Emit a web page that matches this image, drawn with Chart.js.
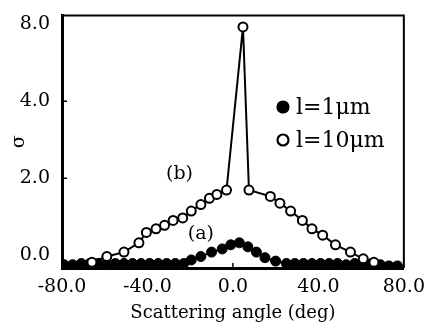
<!DOCTYPE html>
<html>
<head>
<meta charset="utf-8">
<script src="https://cdn.jsdelivr.net/npm/chart.js@4"></script>
<style>
  html, body { margin: 0; padding: 0; background: #fff; }
  #wrap { width: 425px; height: 328px; }
</style>
</head>
<body>
<div id="wrap"><canvas id="myChart"></canvas></div>
<script>
// series (a): l = 1um, filled circles
const aAngles = [-79, -75, -71, -67, -63, -59, -55, -51, -47, -43, -39, -35, -31, -27, -23, -19.5, -15, -10, -5, -1, 3, 7, 11, 15, 20, 25, 29, 33, 37, 41, 45, 49, 53, 57, 61, 65, 69, 73, 77];
const aValues = [0.92, 0.92, 0.93, 0.93, 0.93, 0.92, 0.93, 0.93, 0.93, 0.93, 0.93, 0.93, 0.93, 0.93, 0.93, 0.96, 0.99, 1.03, 1.06, 1.10, 1.12, 1.08, 1.03, 0.98, 0.95, 0.93, 0.93, 0.93, 0.93, 0.93, 0.93, 0.93, 0.92, 0.93, 0.93, 0.93, 0.92, 0.91, 0.91];

// series (b): l = 10um, open circles
const bAngles = [-66, -59, -51, -44, -40.5, -36, -32, -28, -23.5, -19.5, -15, -11, -7.5, -3, 4.7, 7.5, 17.5, 22, 27, 32.5, 37, 42, 48, 55, 61, 66];
const bValues = [0.94, 0.99, 1.03, 1.12, 1.23, 1.27, 1.31, 1.37, 1.40, 1.49, 1.58, 1.67, 1.73, 1.80, 7.8, 1.80, 1.70, 1.60, 1.49, 1.37, 1.27, 1.20, 1.10, 1.03, 0.97, 0.94];

const seriesLabels = ['l=1\u03bcm', 'l=10\u03bcm'];
const xTickValues = [-80, -40, 0, 40, 80];
const yTickValues = [1, 2, 4, 8];
const yTickLabels = ['0.0', '2.0', '4.0', '8.0'];
const curveNotes = [{ text: '(b)', x: -25, y: 2.07 }, { text: '(a)', x: -15, y: 1.21 }];

const serif = '"DejaVu Serif", "Liberation Serif", serif';

const toPoints = (xs, ys) => xs.map((x, i) => ({ x: x, y: ys[i] }));

// frame, inward ticks, notes and legend
const extras = {
  id: 'extras',
  afterDraw(chart) {
    const ctx = chart.ctx;
    const a = chart.chartArea;
    const xs = chart.scales.x, ys = chart.scales.y;
    ctx.save();
    ctx.strokeStyle = '#000';
    ctx.lineWidth = 2;
    ctx.beginPath();
    ctx.moveTo(a.left, a.top); ctx.lineTo(a.right, a.top); ctx.lineTo(a.right, a.bottom);
    ctx.stroke();
    ctx.lineWidth = 1.5;
    ctx.beginPath();
    [2, 4].forEach(v => {
      const py = ys.getPixelForValue(v);
      ctx.moveTo(a.left, py); ctx.lineTo(a.left + 5, py);
    });
    const px0 = xs.getPixelForValue(0);
    ctx.moveTo(px0, a.bottom); ctx.lineTo(px0, a.bottom - 5);
    ctx.stroke();

    ctx.fillStyle = '#000';
    ctx.font = '19px ' + serif;
    ctx.textAlign = 'center';
    ctx.textBaseline = 'middle';
    curveNotes.forEach(n => {
      ctx.fillText(n.text, xs.getPixelForValue(n.x), ys.getPixelForValue(n.y));
    });

    // legend
    ctx.textAlign = 'left';
    ctx.font = '22px ' + serif;
    chart.data.datasets.forEach((ds, i) => {
      const cy = 107 + i * 33;
      const cx = 283;
      ctx.beginPath();
      ctx.arc(cx, cy, 5.5, 0, Math.PI * 2);
      ctx.fillStyle = ds.pointBackgroundColor;
      ctx.fill();
      ctx.lineWidth = 2.2;
      ctx.strokeStyle = '#000';
      ctx.stroke();
      ctx.fillStyle = '#000';
      ctx.fillText(ds.label, cx + 13, cy + 1);
    });
    ctx.restore();
  }
};

const ctx = document.getElementById('myChart').getContext('2d');
const myChart = new Chart(ctx, {
  type: 'scatter',
  data: {
    datasets: [{
      label: seriesLabels[0],
      data: toPoints(aAngles, aValues),
      showLine: true,
      borderColor: '#000',
      borderWidth: 2,
      pointRadius: 5,
      pointBackgroundColor: '#000',
      pointBorderColor: '#000',
      pointBorderWidth: 1,
      order: 1
    }, {
      label: seriesLabels[1],
      data: toPoints(bAngles, bValues),
      showLine: true,
      borderColor: '#000',
      borderWidth: 2,
      pointRadius: 4.5,
      pointBackgroundColor: '#fff',
      pointBorderColor: '#000',
      pointBorderWidth: 2,
      order: 0
    }]
  },
  options: {
    responsive: true,
    maintainAspectRatio: false,
    animation: false,
    layout: { padding: { left: 0, right: 19, top: 6, bottom: 0 } },
    plugins: {
      legend: { display: false },
      tooltip: { enabled: false }
    },
    scales: {
      x: {
        type: 'linear',
        min: -80,
        max: 80,
        afterBuildTicks: s => { s.ticks = xTickValues.map(v => ({ value: v })); },
        afterFit: s => { s.height = 60; },
        grid: { display: false },
        border: { display: true, color: '#000', width: 3 },
        ticks: {
          color: '#000',
          font: { family: serif, size: 19 },
          padding: 0,
          maxRotation: 0,
          callback: v => Number(v).toFixed(1)
        },
        title: {
          display: true,
          text: 'Scattering angle (deg)',
          color: '#000',
          font: { family: serif, size: 18 },
          padding: { top: 0, bottom: 4 }
        }
      },
      y: {
        type: 'logarithmic',
        min: 0.893,
        max: 8.65,
        afterBuildTicks: s => { s.ticks = yTickValues.map(v => ({ value: v })); },
        afterFit: s => { s.width = 62; },
        grid: { display: false },
        border: { display: true, color: '#000', width: 3 },
        ticks: {
          color: '#000',
          font: { family: serif, size: 19 },
          padding: 4,
          callback: v => yTickLabels[yTickValues.indexOf(v)]
        },
        title: {
          display: true,
          text: '\u03c3',
          color: '#000',
          font: { family: serif, size: 19 },
          padding: { top: 8, bottom: 0 }
        }
      }
    }
  },
  plugins: [extras]
});
</script>
</body>
</html>
